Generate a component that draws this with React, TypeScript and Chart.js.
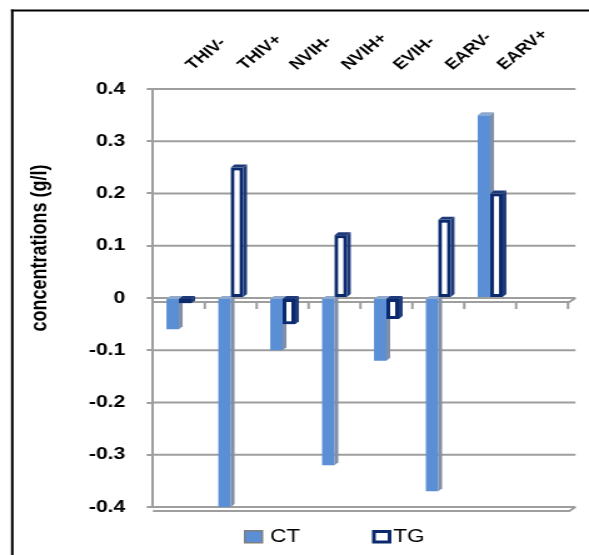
import React, { useEffect, useRef } from "react";
import { Chart, registerables } from "chart.js";

Chart.register(...registerables);

// ---- data ----
const categories = ["THIV-", "THIV+", "NVIH-", "NVIH+", "EVIH-", "EARV-", "EARV+", ""];
const ctValues = [-0.06, -0.4, -0.1, -0.32, -0.12, -0.37, 0.35, null];
const tgValues = [-0.01, 0.25, -0.05, 0.12, -0.04, 0.15, 0.2, null];
const seriesNames = ["CT", "TG"];
const yTickValues = [-0.4, -0.3, -0.2, -0.1, 0, 0.1, 0.2, 0.3, 0.4];
const yTickLabels = ["-0.4", "-0.3", "-0.2", "-0.1", "0", "0.1", "0.2", "0.3", "0.4"];
const yTitle = "concentrations (g/l)";

// ---- styling ----
const CW = 471; // drawing width, stretched to 589 on screen
const CH = 555;
const FONT = "'Liberation Sans', Arial, sans-serif";
const GRID = "#9E9E9E";
const CT_FILL = "#5A8FD6";
const CT_SIDE = "#7F8FA6";
const CT_TOP = "#8FA9CC";
const TG_FILL = "#FFFFFF";
const TG_BORDER = "#0B2A6E";
const TG_SIDE = "#1E3A78";
const DX = 3;
const DY = 3;

const deco = {
  id: "deco",
  beforeDraw(chart: any) {
    const ctx = chart.ctx;
    ctx.save();
    ctx.fillStyle = "#ffffff";
    ctx.fillRect(0, 0, chart.width, chart.height);
    ctx.fillStyle = "#000000";
    ctx.fillRect(8.8, 9.5, 2, chart.height);
    ctx.fillRect(8.8, 9.5, chart.width, 2);
    ctx.restore();
  },
  beforeDatasetsDraw(chart: any) {
    const { ctx, chartArea, scales } = chart;
    const y = scales.y;
    const x = scales.x;
    ctx.save();
    ctx.strokeStyle = GRID;
    ctx.lineWidth = 2;
    y.ticks.forEach((t: any) => {
      const py = y.getPixelForValue(t.value);
      ctx.beginPath();
      ctx.moveTo(chartArea.left, py);
      ctx.lineTo(chartArea.right + 6, py);
      ctx.stroke();
    });
    // front edges of the 3D floor at 0 and at the bottom
    [0, yTickValues[0]].forEach((v) => {
      const py = y.getPixelForValue(v) + 4;
      ctx.beginPath();
      ctx.moveTo(chartArea.left, py);
      ctx.lineTo(chartArea.right + 1, py);
      ctx.lineTo(chartArea.right + 6, py - 4);
      ctx.stroke();
    });
    // category ticks on the zero line
    const py0 = y.getPixelForValue(0) + 4;
    const n = categories.length;
    for (let i = 1; i <= n; i++) {
      const bx =
        i < n ? (x.getPixelForValue(i - 1) + x.getPixelForValue(i)) / 2 : chartArea.right;
      ctx.beginPath();
      ctx.moveTo(bx, py0);
      ctx.lineTo(bx, py0 + 7);
      ctx.stroke();
    }
    ctx.restore();
  },
  afterDatasetsDraw(chart: any) {
    const ctx = chart.ctx;
    const sides = [CT_SIDE, TG_SIDE];
    const tops = [CT_TOP, TG_SIDE];
    ctx.save();
    chart.data.datasets.forEach((ds: any, di: number) => {
      const meta = chart.getDatasetMeta(di);
      meta.data.forEach((el: any, i: number) => {
        if (ds.data[i] == null) return;
        if (di > 0) el.draw(ctx);
        const p = el.getProps(["x", "y", "base", "width"], true);
        if (!isFinite(p.y) || !isFinite(p.base)) return;
        const l = p.x - p.width / 2;
        const r = p.x + p.width / 2;
        const top = Math.min(p.y, p.base);
        const bot = Math.max(p.y, p.base);
        ctx.fillStyle = sides[di];
        ctx.beginPath();
        ctx.moveTo(r, top);
        ctx.lineTo(r + DX, top - DY);
        ctx.lineTo(r + DX, bot - DY);
        ctx.lineTo(r, bot);
        ctx.closePath();
        ctx.fill();
        ctx.fillStyle = tops[di];
        ctx.beginPath();
        ctx.moveTo(l, top);
        ctx.lineTo(l + DX, top - DY);
        ctx.lineTo(r + DX, top - DY);
        ctx.lineTo(r, top);
        ctx.closePath();
        ctx.fill();
      });
    });
    ctx.restore();
  },
  afterDraw(chart: any) {
    const ctx = chart.ctx;
    ctx.save();
    // y axis title
    ctx.translate(32, 248);
    ctx.rotate(-Math.PI / 2);
    ctx.font = `bold 18px ${FONT}`;
    ctx.fillStyle = "#000";
    ctx.textAlign = "center";
    ctx.textBaseline = "middle";
    ctx.fillText(yTitle, 0, 0);
    ctx.restore();

    // legend
    ctx.save();
    const ly = 537;
    ctx.font = `18px ${FONT}`;
    ctx.textBaseline = "middle";
    ctx.textAlign = "left";
    // CT
    ctx.fillStyle = "#7F7F7F";
    ctx.fillRect(195, 530, 15.5, 13.5);
    ctx.fillStyle = CT_FILL;
    ctx.fillRect(196.5, 531.5, 12.5, 10.5);
    ctx.fillStyle = "#000";
    ctx.fillText(seriesNames[0], 216, ly);
    // TG
    ctx.fillStyle = TG_BORDER;
    ctx.fillRect(297.5, 530, 15.5, 13.5);
    ctx.fillStyle = "#fff";
    ctx.fillRect(300.5, 533, 9.5, 7.5);
    ctx.fillStyle = "#000";
    ctx.fillText(seriesNames[1], 314.5, ly);
    ctx.restore();
  },
};

export default function App() {
  const ref = useRef<HTMLCanvasElement | null>(null);

  useEffect(() => {
    if (!ref.current) return;
    const chart = new Chart(ref.current, {
      type: "bar",
      data: {
        labels: categories,
        datasets: [
          {
            label: seriesNames[0],
            data: ctValues,
            backgroundColor: CT_FILL,
            borderWidth: 0,
            categoryPercentage: 0.48,
            barPercentage: 1,
          },
          {
            label: seriesNames[1],
            data: tgValues,
            backgroundColor: TG_FILL,
            borderColor: TG_BORDER,
            borderWidth: 3,
            borderSkipped: false,
            categoryPercentage: 0.48,
            barPercentage: 1,
          },
        ],
      },
      options: {
        responsive: false,
        devicePixelRatio: 1,
        animation: false,
        layout: { padding: { left: 0, right: 16.8, top: 0, bottom: 48 } },
        plugins: {
          legend: { display: false },
          tooltip: { enabled: false },
        },
        scales: {
          x: {
            position: "top",
            offset: true,
            grid: { display: false, drawTicks: false },
            border: { display: false },
            ticks: {
              autoSkip: false,
              minRotation: 45,
              maxRotation: 45,
              padding: 15,
              labelOffset: 21,
              color: "#000",
              font: { family: FONT, weight: "bold", size: 15 },
            },
            afterFit: (s: any) => {
              s.height = 89;
            },
          },
          y: {
            min: yTickValues[0],
            max: yTickValues[yTickValues.length - 1],
            afterBuildTicks: (s: any) => {
              s.ticks = yTickValues.map((v) => ({ value: v }));
            },
            grid: {
              drawOnChartArea: false,
              drawTicks: true,
              tickLength: 5,
              color: GRID,
              lineWidth: 2,
            },
            border: { display: true, color: GRID, width: 2 },
            ticks: {
              padding: 17,
              color: "#000",
              font: { family: FONT, weight: "bold", size: 17 },
              callback: (v: any) => {
                const i = yTickValues.findIndex((t) => Math.abs(t - Number(v)) < 1e-9);
                return i >= 0 ? yTickLabels[i] : "";
              },
            },
            afterFit: (s: any) => {
              s.width = 122.3;
            },
          },
        },
      },
      plugins: [deco],
    });
    return () => chart.destroy();
  }, []);

  return (
    <div style={{ position: "fixed", left: 0, top: 0, width: 589, height: 555, background: "#fff" }}>
      <canvas
        ref={ref}
        width={CW}
        height={CH}
        style={{ width: "589px", height: "555px", display: "block" }}
      />
    </div>
  );
}
